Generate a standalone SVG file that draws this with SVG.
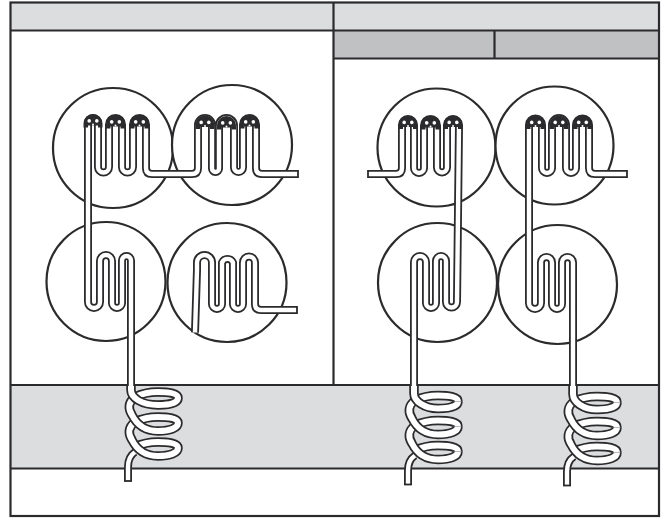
<svg xmlns="http://www.w3.org/2000/svg" xmlns:xlink="http://www.w3.org/1999/xlink" width="665" height="523" viewBox="0 0 665 523">
<style>
.f{fill:none;stroke:#2b2b2d;stroke-width:2.2}
.c{fill:#fff;stroke:#2b2b2d;stroke-width:2.2}
.e{fill:none;stroke:#2b2b2d;stroke-width:1.8}
.o{fill:none;stroke:#2b2b2d;stroke-width:8;stroke-linejoin:round}
.i{fill:none;stroke:#fff;stroke-width:4.4;stroke-linejoin:round}
.oc{fill:none;stroke:#2b2b2d;stroke-width:9.5;stroke-linejoin:round}
.ic{fill:none;stroke:#fff;stroke-width:6;stroke-linejoin:round}
.k{fill:#2b2b2d}
.w{fill:#fff}
</style>
<defs>
<g id="cap"><path class="k" d="M-9.5,4 V0 A9.5,9.5 0 0 1 9.5,0 V4 H5 V2 H-5 V4 Z"/><circle class="w" cx="-3.8" cy="-2.6" r="1.8"/><circle class="w" cx="3.8" cy="-2.6" r="1.8"/><circle class="w" cx="0" cy="1" r="1"/></g>
<path id="tail" d="M135,452 C129,456 128,461 128,467 V481"/>
<path id="b3" d="M178,448 C178,443 168,442 158,442 C148,442 141,444 135,447"/>
<path id="f3" d="M135,397 C128,402 128,409 132,415 C137,425 146,431 158,431 C170,431 178,428 178,423" transform="translate(0,25)"/>
<path id="b2" d="M178,423 C178,418 168,417 158,417 C148,417 141,419 135,422"/>
<path id="f2" d="M135,397 C128,402 128,409 132,415 C137,425 146,431 158,431 C170,431 178,428 178,423"/>
<path id="b1" d="M178,398 C178,393 168,392 158,392 C148,392 141,394 135,397"/>
<g id="coil">
<use xlink:href="#tail" class="o"/><use xlink:href="#tail" class="i"/>
<path class="e" d="M124,481 H132"/>
<use xlink:href="#b3" class="oc"/><use xlink:href="#b3" class="ic"/>
<use xlink:href="#f3" class="oc"/><use xlink:href="#f3" class="ic"/>
<use xlink:href="#b2" class="oc"/><use xlink:href="#b2" class="ic"/>
<use xlink:href="#f2" class="oc"/><use xlink:href="#f2" class="ic"/>
<use xlink:href="#b1" class="oc"/><use xlink:href="#b1" class="ic"/>
</g>
<path id="t1" d="M298,174 H262 Q256,174 256,168 V124.5 A6.5,6.5 0 0 0 243,124.5 V167.5 A4.5,4.5 0 0 1 234,167.5 V125.5 A7.5,7.5 0 0 0 219,125.5 V168.5 A3.5,3.5 0 0 1 212,168.5 V125 A7,7 0 0 0 198,125 V168 Q198,174 192,174 H152 Q146,174 146,168 V124.5 A6.5,6.5 0 0 0 133,124.5 V167 A5.5,5.5 0 0 1 122,167 V124.5 A6.5,6.5 0 0 0 109,124.5 V167 A5.5,5.5 0 0 1 98,167 V123 A5,5 0 0 0 88,123 V302 A6,6 0 0 0 100,302 V261 A6,6 0 0 1 112,261 V303 A5,5 0 0 0 122,303 V260.5 A4.5,4.5 0 0 1 131,260.5 V387"/>
<path id="s1" d="M131,386 V390 C131,398 142,405 158,405 C170,405 178,403 178,398"/>
<path id="t2" d="M195,332.5 L197,270 V262.5 A7.5,7.5 0 0 1 212,262.5 V304 A5,5 0 0 0 222,304 V262.5 A6,6 0 0 1 233,262.5 V304 A5,5 0 0 0 243,304 V262.5 A6,6 0 0 1 255,262.5 V304 Q255,310 261,310 H297"/>
<path id="t3" d="M368,174 H396 Q402,174 402,168 V125 A6,6 0 0 1 414,125 V168 A5,5 0 0 0 424,168 V125.5 A6.5,6.5 0 0 1 437,125.5 V167.5 A5,5 0 0 0 447,167.5 V125 A6,6 0 0 1 459,125 L457,302 A5.5,5.5 0 0 1 446,302 V261 A5,5 0 0 0 436,261 V303 A5,5 0 0 1 426,303 V262 A6,6 0 0 0 414,262 V387"/>
<path id="s3" d="M414,386 V393.5 C414,401 424,408.5 438,408.5 C450,408.5 458,406 458,401.5"/>
<path id="t4" d="M627,174 H595 Q589,174 589,168 V125 A6.5,6.5 0 0 0 576,125 V168 A5,5 0 0 1 566,168 V125 A7,7 0 0 0 552,125 V168 A5,5 0 0 1 542,168 V125 A6.5,6.5 0 0 0 529,125 V303 A6,6 0 0 0 541,303 V262.5 A5.5,5.5 0 0 1 552,262.5 V304 A5,5 0 0 0 562,304 V262.5 A5.5,5.5 0 0 1 573,262.5 V387"/>
<path id="s4" d="M573,386 V394 C573,402 583,409.5 597,409.5 C609,409.5 617,407 617,402.5"/>
</defs>
<rect width="665" height="523" fill="#fff"/>
<g id="frame">
<rect x="10.5" y="2.5" width="648.5" height="28" fill="#dcdddf"/>
<rect x="333.5" y="30.5" width="325.5" height="28" fill="#c0c1c3"/>
<rect x="10.5" y="385" width="648.5" height="83.5" fill="#dcdddf"/>
<rect class="f" x="10.5" y="2.5" width="648.5" height="513.5"/>
<path class="f" d="M10.5,30.5 H659 M333.5,2.5 V385 M333.5,58.5 H659 M494.5,30.5 V58.5 M10.5,385 H659 M10.5,468.5 H659"/>
</g>
<g id="circles">
<circle id="n1" class="c" cx="113" cy="148" r="60"/>
<circle id="n2" class="c" cx="232" cy="145" r="60"/>
<circle id="n3" class="c" cx="106" cy="281.5" r="59.5"/>
<circle id="n4" class="c" cx="227" cy="282.5" r="59.5"/>
<circle id="n5" class="c" cx="436.5" cy="147.5" r="59"/>
<circle id="n6" class="c" cx="554.5" cy="145.5" r="59"/>
<circle id="n7" class="c" cx="437.5" cy="282.5" r="59.5"/>
<circle id="n8" class="c" cx="557.5" cy="284.5" r="59.5"/>
</g>
<g id="connectors">
<use xlink:href="#coil"/>
<use xlink:href="#coil" transform="translate(280,3.5)"/>
<use xlink:href="#coil" transform="translate(439,4.5)"/>
<use xlink:href="#t1" class="o"/><use xlink:href="#s1" class="oc"/><use xlink:href="#t1" class="i"/><use xlink:href="#s1" class="ic"/>
<use xlink:href="#t2" class="o"/><use xlink:href="#t2" class="i"/>
<use xlink:href="#t3" class="o"/><use xlink:href="#s3" class="oc"/><use xlink:href="#t3" class="i"/><use xlink:href="#s3" class="ic"/>
<use xlink:href="#t4" class="o"/><use xlink:href="#s4" class="oc"/><use xlink:href="#t4" class="i"/><use xlink:href="#s4" class="ic"/>
<path class="e" d="M298,170 V178 M297,306 V314 M368,170 V178 M627,170 V178"/>
<use xlink:href="#cap" x="93" y="123.5"/>
<use xlink:href="#cap" x="115.5" y="124.5"/>
<use xlink:href="#cap" x="139.5" y="124.5"/>
<use xlink:href="#cap" x="205" y="125"/>
<use xlink:href="#cap" x="226.5" y="125.5"/>
<use xlink:href="#cap" x="249.5" y="124.5"/>
<use xlink:href="#cap" x="408" y="125"/>
<use xlink:href="#cap" x="430.5" y="125.5"/>
<use xlink:href="#cap" x="453" y="125"/>
<use xlink:href="#cap" x="535.5" y="125"/>
<use xlink:href="#cap" x="559" y="125"/>
<use xlink:href="#cap" x="582.5" y="125"/>
</g>
</svg>
